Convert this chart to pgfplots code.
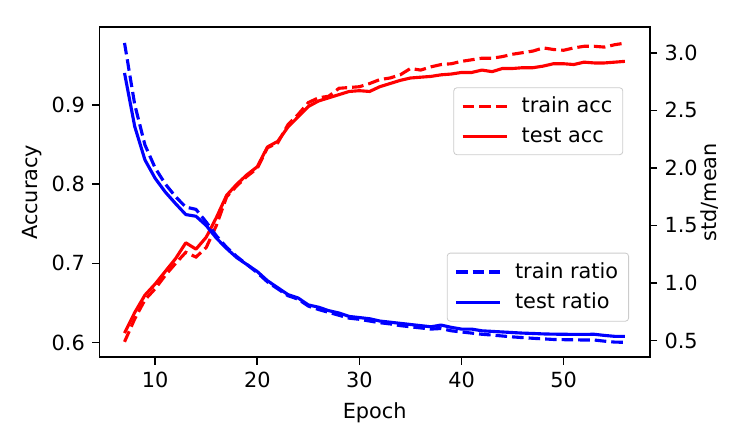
\documentclass[border=0pt]{standalone}
\usepackage{fontspec}
\setmainfont{DejaVu Sans}
\usepackage{pgfplots}
\usepackage{pgfplotstable}
\pgfplotsset{compat=1.18}

\pgfplotstableread{
e trainacc testacc trainratio testratio
7  0.601 0.612 3.086 2.825
8  0.630 0.638 2.55  2.36
9  0.654 0.660 2.20  2.07
10 0.668 0.674 2.00  1.91
11 0.685 0.690 1.86  1.79
12 0.700 0.706 1.75  1.69
13 0.714 0.726 1.66  1.595
14 0.708 0.718 1.64  1.58
15 0.720 0.733 1.53  1.50
16 0.748 0.758 1.41  1.39
17 0.784 0.786 1.31  1.30
18 0.798 0.800 1.23  1.22
19 0.810 0.812 1.16  1.16
20 0.820 0.822 1.09  1.10
21 0.846 0.847 1.01  1.02
22 0.852 0.854 0.95  0.96
23 0.875 0.872 0.89  0.90
24 0.888 0.885 0.86  0.87
25 0.903 0.898 0.80  0.81
26 0.909 0.905 0.77  0.79
27 0.911 0.909 0.745 0.76
28 0.921 0.913 0.72  0.74
29 0.922 0.917 0.695 0.71
30 0.923 0.918 0.685 0.70
31 0.927 0.917 0.67  0.69
32 0.932 0.923 0.655 0.67
33 0.934 0.927 0.645 0.66
34 0.938 0.931 0.63  0.65
35 0.946 0.934 0.62  0.64
36 0.944 0.935 0.61  0.63
37 0.948 0.936 0.60  0.62
38 0.951 0.938 0.605 0.635
39 0.952 0.939 0.585 0.615
40 0.955 0.941 0.575 0.60
41 0.957 0.941 0.565 0.60
42 0.959 0.944 0.555 0.585
43 0.959 0.942 0.548 0.58
44 0.961 0.946 0.54  0.575
45 0.964 0.946 0.532 0.57
46 0.966 0.947 0.526 0.565
47 0.968 0.947 0.52  0.562
48 0.972 0.949 0.515 0.558
49 0.970 0.952 0.51  0.556
50 0.969 0.952 0.508 0.555
51 0.972 0.951 0.507 0.554
52 0.974 0.954 0.505 0.554
53 0.974 0.953 0.505 0.555
54 0.973 0.953 0.495 0.545
55 0.976 0.954 0.487 0.537
56 0.978 0.955 0.485 0.537
}\data

\pgfplotsset{
  common/.style={
    scale only axis, width=264.2pt, height=158.4pt,
    xmin=4.55, xmax=58.45,
    axis line style={line width=0.8pt},
    every tick/.style={black, line width=0.8pt},
    major tick length=3.5pt,
    tick align=outside,
    /pgf/number format/assume math mode=true,
    legend cell align=left,
    legend style={draw=black!20, rounded corners=1.5pt, fill=white, fill opacity=0.8, text opacity=1,
      font=\fontsize{10}{12}\selectfont, inner xsep=3pt, inner ysep=2.5pt, row sep=1.5pt},
    legend image code/.code={\draw[#1] plot coordinates {(0cm,0cm) (0.37cm,0cm) (0.74cm,0cm)};
      \path (-0.5pt,0cm) (0.74cm+4.5pt,0cm);},
    tick label style={font=\fontsize{10}{12}\selectfont},
    label style={font=\fontsize{10}{12}\selectfont},
  },
  dsh/.style={line width=1.5pt, dash pattern=on 5.55pt off 2.4pt},
  sld/.style={line width=1.5pt, line join=round},
}

\begin{document}
\begin{tikzpicture}
\useasboundingbox (-47.76pt,-42.58pt) rectangle (312.24pt,171.5pt);
\begin{axis}[common,
  ymin=0.5815, ymax=0.998,
  xtick={10,20,30,40,50}, xtick pos=bottom,
  ytick={0.6,0.7,0.8,0.9}, ytick pos=left,
  yticklabel style={/pgf/number format/fixed,/pgf/number format/fixed zerofill,/pgf/number format/precision=1},
  xlabel={Epoch}, ylabel={Accuracy},
  xlabel style={at={(axis description cs:0.5,-0.1667)}, anchor=center},
  ylabel style={at={(axis description cs:-0.1217,0.5)}, anchor=center, rotate=0},
  legend style={at={(axis description cs:0.9515,0.818)}, anchor=north east},
]
\addplot[red, dsh] table[x=e, y=trainacc] {\data};
\addlegendentry{train acc}
\addplot[red, sld] table[x=e, y=testacc] {\data};
\addlegendentry{test acc}
\end{axis}
\begin{axis}[common,
  ymin=0.355, ymax=3.222,
  axis x line=none, axis y line*=right,
  ytick={0.5,1.0,1.5,2.0,2.5,3.0},
  yticklabel style={/pgf/number format/fixed,/pgf/number format/fixed zerofill,/pgf/number format/precision=1},
  ylabel={std/mean},
  ylabel style={at={(axis description cs:1.109,0.5)}, anchor=center, rotate=0},
  legend style={at={(axis description cs:0.962,0.317)}, anchor=north east},
]
\addplot[blue, dsh] table[x=e, y=trainratio] {\data};
\addlegendentry{train ratio}
\addplot[blue, sld] table[x=e, y=testratio] {\data};
\addlegendentry{test ratio}
\end{axis}
\end{tikzpicture}
\end{document}
